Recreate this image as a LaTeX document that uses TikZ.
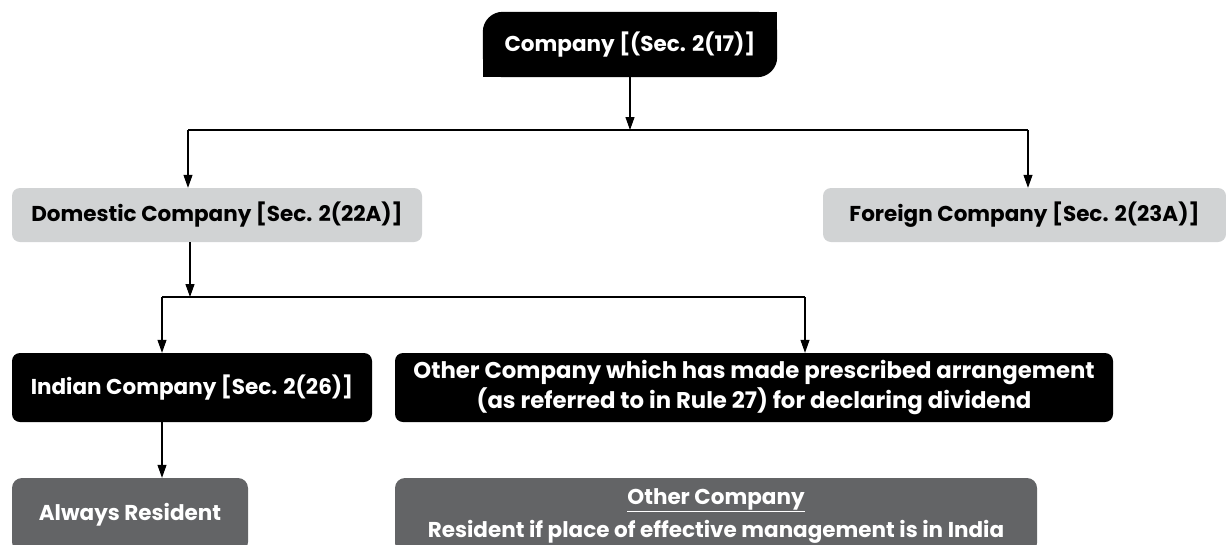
\documentclass[tikz,border=0pt]{standalone}
\usepackage{fontspec}
\setmainfont{Poppins}
\usetikzlibrary{arrows.meta,backgrounds}
\definecolor{lightgr}{HTML}{D1D3D4}
\definecolor{darkgr}{HTML}{636466}
\begin{document}
\begin{tikzpicture}[x=1pt,y=-1pt,
  box/.style={rectangle, inner sep=0pt, align=center, font=\bfseries\fontsize{21.5}{30}\selectfont},
  blackbox/.style={box, fill=black, text=white, rounded corners=8pt},
  lightbox/.style={box, fill=lightgr, text=black, rounded corners=8pt},
  darkbox/.style={box, fill=darkgr, text=white, rounded corners=10pt},
  conn/.style={line width=1.1pt},
  arr/.style={conn, -{Triangle[length=13pt,width=9pt]}}]
\useasboundingbox (0,0) rectangle (1226,544);
% nodes
\node[box, text=white, minimum width=294pt, minimum height=65pt] (top) at (630,44.5) {Company [(Sec. 2(17)]};
\begin{scope}[on background layer]
  \fill[black, rounded corners=20pt] (top.south west) rectangle (top.north east);
  \fill[black] (top.north) rectangle (top.east);
  \fill[black] (top.west) rectangle (top.south);
\end{scope}
\node[lightbox, minimum width=410pt, minimum height=54pt] (dom) at (217,215) {Domestic Company [Sec. 2(22A)]};
\node[lightbox, minimum width=403pt, minimum height=54pt] (for) at (1024.5,215) {Foreign Company [Sec. 2(23A)]};
\node[blackbox, minimum width=360pt, minimum height=69pt] (ind) at (192,387.5) {Indian Company [Sec. 2(26)]};
\node[blackbox, minimum width=718pt, minimum height=69pt, font=\bfseries\fontsize{22.8}{30}\selectfont] (oth) at (754,387.5) {Other Company which has made prescribed arrangement\\(as referred to in Rule 27) for declaring dividend};
\node[darkbox, minimum width=236pt, minimum height=74pt] (alw) at (130,515) {Always Resident};
\node[darkbox, minimum width=642pt, minimum height=75pt, font=\bfseries\fontsize{21.5}{33}\selectfont] (otc) at (716,515.5) {\underline{Other Company}\\Resident if place of effective management is in India};
% connectors
\coordinate (j1) at (630,130);
\coordinate (jl) at (188,130);
\coordinate (jr) at (1028,130);
\draw[arr] (top) -- (j1);
\draw[conn] (jl) -- (jr);
\draw[arr] (jl) -- (jl |- dom.north);
\draw[arr] (jr) -- (jr |- for.north);
\coordinate (j2) at (190,297);
\coordinate (j2l) at (162,297);
\coordinate (j2r) at (805,297);
\draw[arr] (dom.south -| j2) -- (j2);
\draw[conn] (j2l) -- (j2r);
\draw[arr] (j2l) -- (j2l |- ind.north);
\draw[arr] (j2r) -- (j2r |- oth.north);
\draw[arr] (ind.south -| j2l) -- (j2l |- alw.north);
\end{tikzpicture}
\end{document}
